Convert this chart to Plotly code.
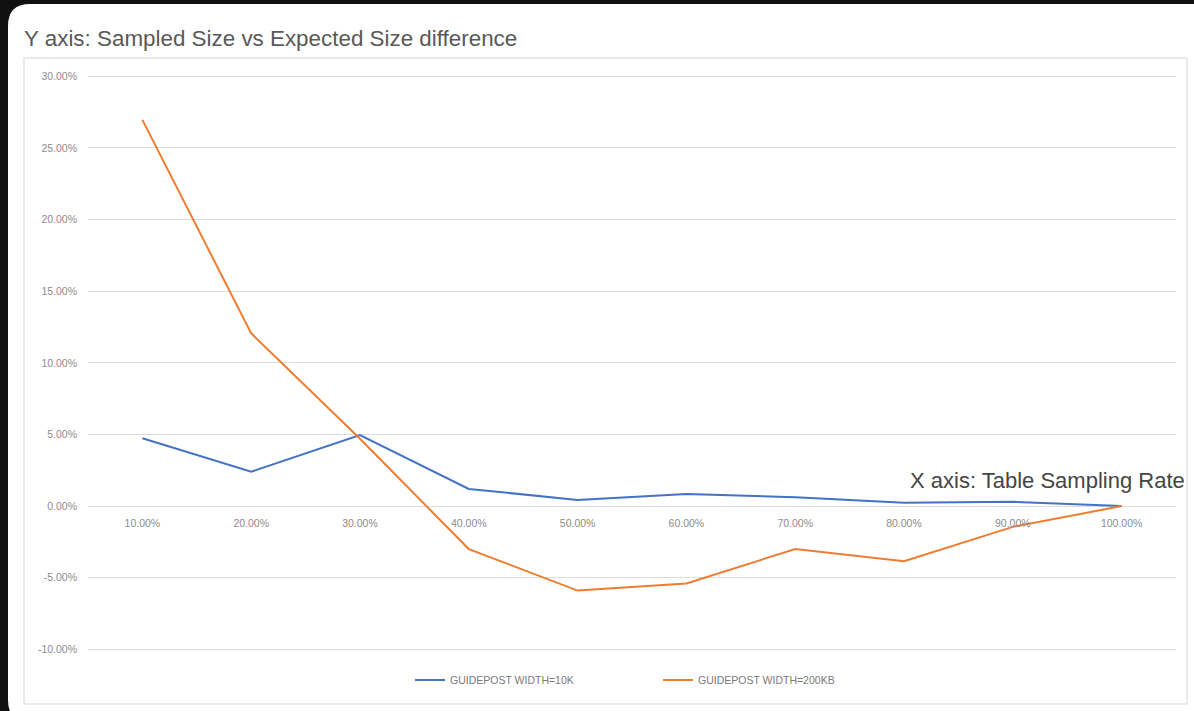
import plotly.graph_objects as go

categories = ["10.00%", "20.00%", "30.00%", "40.00%", "50.00%",
              "60.00%", "70.00%", "80.00%", "90.00%", "100.00%"]
series_10k = [4.73, 2.40, 4.96, 1.20, 0.43, 0.85, 0.62, 0.23, 0.30, 0.0]
series_200kb = [26.96, 12.06, 4.70, -3.00, -5.90, -5.40, -3.00, -3.85, -1.45, 0.0]
y_ticks = [30, 25, 20, 15, 10, 5, 0, -5, -10]
y_tick_labels = ["30.00%", "25.00%", "20.00%", "15.00%", "10.00%",
                 "5.00%", "0.00%", "-5.00%", "-10.00%"]
name_10k = "GUIDEPOST WIDTH=10K"
name_200kb = "GUIDEPOST WIDTH=200KB"

W, H = 1194, 711
ML, MR, MT, MB = 88, 18, 62, 33
PW = W - ML - MR
PH = H - MT - MB
Y_RANGE = [-12, 31]


def px_x(px):
    return (px - ML) / PW


def px_y(py):
    return (H - MB - py) / PH


fig = go.Figure()
fig.add_trace(go.Scatter(x=categories, y=series_10k, mode="lines", name=name_10k,
                         line=dict(color="#4472C4", width=2)))
fig.add_trace(go.Scatter(x=categories, y=series_200kb, mode="lines", name=name_200kb,
                         line=dict(color="#ED7D31", width=2)))

zero_frac = (0 - Y_RANGE[0]) / (Y_RANGE[1] - Y_RANGE[0])

# white card with rounded left corners
x0, y0, x1, y1, r = px_x(8), px_y(4), px_x(1230), px_y(722), 22
rx, ry = r / PW, r / PH
card_path = (f"M {x0+rx},{y0} L {x1},{y0} L {x1},{y1} L {x0+rx},{y1} "
             f"Q {x0},{y1} {x0},{y1+ry} L {x0},{y0-ry} Q {x0},{y0} {x0+rx},{y0} Z")

tick_font = dict(size=10.5, color="#8c8c8c")

fig.update_layout(
    width=W, height=H,
    paper_bgcolor="#111111",
    plot_bgcolor="rgba(0,0,0,0)",
    margin=dict(l=ML, r=MR, t=MT, b=MB),
    font=dict(family="Liberation Sans, Arial, sans-serif", color="#777777"),
    title=dict(text="Y axis: Sampled Size vs Expected Size difference",
               xref="container", yref="container", x=24 / W, y=1 - 38 / H,
               xanchor="left", yanchor="middle",
               font=dict(size=22.4, color="#595959")),
    xaxis=dict(type="category", range=[-0.5, 9.5], anchor="free", position=zero_frac,
               showgrid=False, showline=False, zeroline=False, ticks="",
               tickfont=tick_font, ticklabelstandoff=9),
    yaxis=dict(range=Y_RANGE, tickvals=y_ticks, ticktext=y_tick_labels,
               showgrid=True, gridcolor="#dcdcdc", gridwidth=1.2,
               zeroline=True, zerolinecolor="#dcdcdc", zerolinewidth=1.2,
               showline=False, ticks="", ticklabelstandoff=10,
               tickfont=tick_font),
    legend=dict(orientation="h", x=px_x(410), y=px_y(680), xanchor="left", yanchor="middle",
                entrywidth=203, entrywidthmode="pixels",
                font=dict(size=10.5, color="#7a7a7a"), bgcolor="rgba(0,0,0,0)"),
    showlegend=True,
    shapes=[
        dict(type="path", path=card_path, xref="paper", yref="paper",
             fillcolor="white", line=dict(width=0), layer="below"),
        dict(type="rect", xref="paper", yref="paper",
             x0=px_x(24), x1=px_x(1187), y0=px_y(704), y1=px_y(58),
             line=dict(color="#e4e4e4", width=1.5), fillcolor="rgba(0,0,0,0)", layer="below"),
    ],
    annotations=[
        dict(text="X axis: Table Sampling Rate", xref="paper", yref="y",
             x=px_x(1187), y=1.8, xanchor="right", yanchor="middle", showarrow=False,
             font=dict(size=22, color="#454545")),
    ],
)

fig.write_html(
    "out.html",
    config={"displayModeBar": False},
    post_script="document.body.style.margin='0';document.body.style.padding='0';"
                "document.body.style.overflow='hidden';document.body.style.background='#111111';",
)
